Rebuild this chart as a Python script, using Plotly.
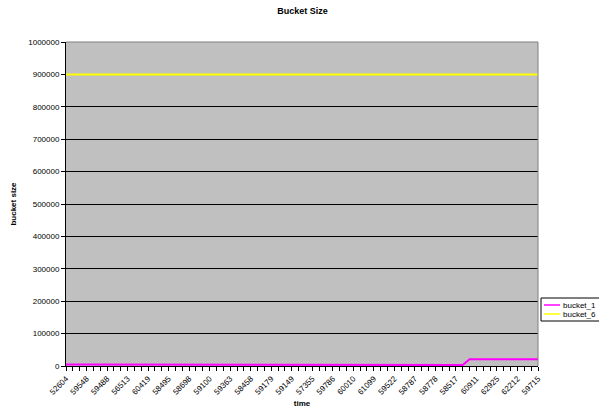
import plotly.graph_objects as go

# Time labels shown on the category axis (every third sample)
time_labels = ["52604", "59548", "59488", "56513", "60419", "58495", "58698",
               "59100", "59363", "58458", "59179", "59149", "57355", "59786",
               "60010", "61099", "59522", "58787", "58778", "58517", "60911",
               "62925", "62212", "59715"]
label_step = 3

# Bucket sizes per sample (70 samples)
bucket_1 = [5000, 5000, 5000, 5000, 5000, 5000, 5000, 5000, 5000, 5000,
            5000, 5000, 5000, 5000, 5000, 5000, 3000, 3000, 3000, 3000,
            3000, 3000, 3000, 3000, 3000, 3000, 3000, 3000, 3000, 3000,
            3000, 3000, 3000, 3000, 3000, 3000, 3000, 3000, 3000, 3000,
            3000, 3000, 3000, 3000, 3000, 3000, 3000, 3000, 3000, 3000,
            3000, 3000, 3000, 3000, 3000, 3000, 3000, 3000, 3000, 21000,
            21000, 21000, 21000, 21000, 21000, 21000, 21000, 21000, 21000, 21000]
bucket_6 = [900000] * 70

series_names = ["bucket_1", "bucket_6"]
series_colors = ["#FF00FF", "#FFFF00"]

y_ticks = list(range(0, 1000001, 100000))

n = len(bucket_1)
x = list(range(n))
tickvals = list(range(n))
ticktext = [time_labels[i // label_step] if i % label_step == 0 and i // label_step < len(time_labels) else ""
            for i in range(n)]

FONT = "Arial, Liberation Sans, sans-serif"
W, H = 599, 412
ML, MR, MT, MB = 66, 61, 42, 46
PW, PH = W - ML - MR, H - MT - MB


def px_x(px):
    return (px - ML) / PW


def px_y(py):
    return (H - MB - py) / PH


fig = go.Figure()
for name, vals, color in zip(series_names, [bucket_1, bucket_6], series_colors):
    fig.add_trace(go.Scatter(x=x, y=vals, mode="lines", name=name,
                             line=dict(color=color, width=2), showlegend=False))

fig.update_layout(
    width=W, height=H,
    margin=dict(l=ML, r=MR, t=MT, b=MB, autoexpand=False),
    paper_bgcolor="white",
    plot_bgcolor="#C0C0C0",
    font=dict(family=FONT, size=8, color="black"),
    title=dict(text="<b>Bucket Size</b>", x=0.505, xanchor="center",
               y=0.981, yanchor="top", font=dict(size=9)),
    showlegend=False,
    xaxis=dict(
        range=[0, n - 1],
        tickmode="array", tickvals=tickvals, ticktext=ticktext,
        tickangle=-45, ticks="outside", ticklen=4, tickcolor="black",
        showgrid=False, zeroline=False,
        showline=True, linecolor="black", linewidth=1,
        title=dict(text="<b>time</b>", font=dict(size=8), standoff=4),
    ),
    yaxis=dict(
        range=[0, 1000000],
        tickmode="array", tickvals=y_ticks, tickformat="d",
        ticks="outside", ticklen=4, tickcolor="black",
        showgrid=True, gridcolor="black", gridwidth=1,
        zeroline=False,
        showline=True, linecolor="black", linewidth=1,
        title=dict(text="<b>bucket size</b>", font=dict(size=8), standoff=10),
    ),
)

# Grey frame on the top and right edges of the plot area
fig.add_shape(type="line", xref="paper", yref="paper", x0=0, x1=1, y0=1, y1=1,
              line=dict(color="#808080", width=1))
fig.add_shape(type="line", xref="paper", yref="paper", x0=1, x1=1, y0=0, y1=1,
              line=dict(color="#808080", width=1))

# Legend box at the right edge of the figure
fig.add_shape(type="rect", xref="paper", yref="paper",
              x0=px_x(541), x1=px_x(640), y0=px_y(321), y1=px_y(298),
              line=dict(color="black", width=1), fillcolor="white")
for i, (name, color) in enumerate(zip(series_names, series_colors)):
    yy = 305 + i * 9
    fig.add_shape(type="line", xref="paper", yref="paper",
                  x0=px_x(544), x1=px_x(560), y0=px_y(yy), y1=px_y(yy),
                  line=dict(color=color, width=1.5))
    fig.add_annotation(xref="paper", yref="paper", x=px_x(561), y=px_y(yy),
                       xanchor="left", yanchor="middle", text=name,
                       showarrow=False, font=dict(size=8), xshift=0)

fig.write_html("out.html")
